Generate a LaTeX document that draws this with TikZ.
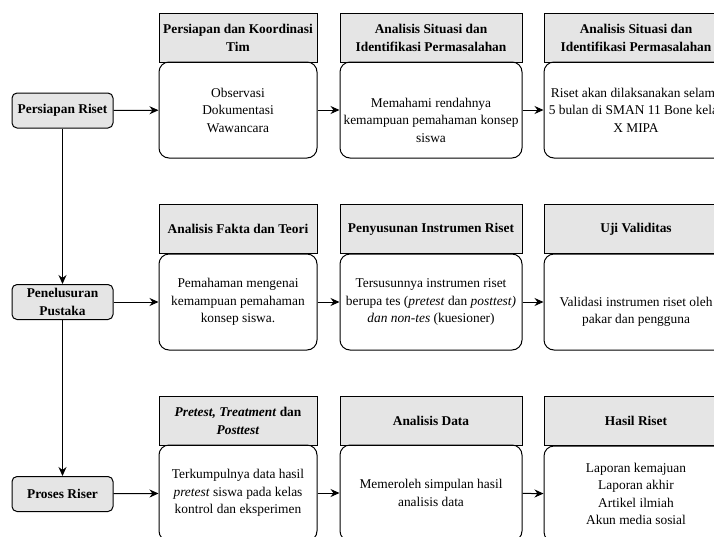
\documentclass[tikz,border=0pt]{standalone}
\usepackage{fontspec}
\setmainfont{Liberation Serif}
\usetikzlibrary{positioning,arrows.meta}

\begin{document}
\begin{tikzpicture}[x=1pt, y=-1pt, >={Stealth[length=9pt,width=8pt]}, line width=1pt,
  font=\fontsize{13.4}{17.5}\selectfont,
  stage/.style={draw, fill=black!10, rounded corners=5pt, inner sep=2pt, align=center, minimum width=101pt, minimum height=35pt, font=\fontsize{13.4}{18}\selectfont\bfseries},
  head/.style={draw, fill=black!10, inner sep=2pt, align=center, minimum height=49pt, font=\fontsize{13.4}{18}\selectfont\bfseries},
  body/.style={draw, rounded corners=10pt, inner sep=2pt, align=center, minimum height=96pt},
  txt/.style={inner sep=0pt, align=center}]
\useasboundingbox (0,0) rectangle (714,536);
\clip (0,0) rectangle (714,536);
% stages on the left
\node[stage] (riset) at (62.5,110.5) {Persiapan Riset};
\node[stage] (pustaka) at (62.5,302) {Penelusuran\\Pustaka};
\node[stage] (proses) at (62.5,494) {Proses Riser};
% first row
\node[head, minimum width=158pt] (koord) at (238,37.5) {Persiapan dan Koordinasi\\Tim};
\node[body, minimum width=158pt] (obs) at (238,110) {Observasi\\Dokumentasi\\Wawancara};
\node[head, minimum width=182pt] (situasi) at (431,37.5) {Analisis Situasi dan\\Identifikasi Permasalahan};
\node[body, minimum width=182pt] (paham) at (431,110) {};
\node[txt] (pahamtxt) at (431,120) {Memahami rendahnya\\kemampuan pemahaman konsep\\siswa};
\node[head, minimum width=184pt] (situasib) at (636,37.5) {Analisis Situasi dan\\Identifikasi Permasalahan};
\node[body, minimum width=184pt] (waktu) at (636,110) {Riset akan dilaksanakan selama\\5 bulan di SMAN 11 Bone kelas\\X MIPA};
% second row
\node[head, minimum width=158pt] (fakta) at (238,229) {Analisis Fakta dan Teori};
\node[body, minimum width=158pt] (konsep) at (238,302) {Pemahaman mengenai\\kemampuan pemahaman\\konsep siswa.};
\node[head, minimum width=182pt] (susun) at (431,229) {Penyusunan Instrumen Riset};
\node[body, minimum width=182pt] (instr) at (431,302) {Tersusunnya instrumen riset\\berupa tes (\textit{pretest} dan \textit{posttest)}\\\textit{dan non-tes} (kuesioner)};
\node[head, minimum width=184pt] (uji) at (636,229) {Uji Validitas};
\node[body, minimum width=184pt] (valid) at (636,302) {};
\node[txt] (validtxt) at (636,312) {Validasi instrumen riset oleh\\pakar dan pengguna};
% third row
\node[head, minimum width=158pt] (treat) at (238,421) {\textit{Pretest, Treatment} dan\\\textit{Posttest}};
\node[body, minimum width=158pt] (data) at (238,493) {Terkumpulnya data hasil\\\textit{pretest} siswa pada kelas\\kontrol dan eksperimen};
\node[head, minimum width=182pt] (anal) at (431,421) {Analisis Data};
\node[body, minimum width=182pt] (simpul) at (431,493) {Memeroleh simpulan hasil\\analisis data};
\node[head, minimum width=184pt] (hasil) at (636,421) {Hasil Riset};
\node[body, minimum width=184pt] (luaran) at (636,494) {Laporan kemajuan\\Laporan akhir\\Artikel ilmiah\\Akun media sosial};
% connectors
\draw[->] (riset) -- (pustaka); \draw[->] (pustaka) -- (proses);
\draw[->] (riset) -- (obs); \draw[->] (obs) -- (paham); \draw[->] (paham) -- (waktu);
\draw[->] (pustaka) -- (konsep); \draw[->] (konsep) -- (instr); \draw[->] (instr) -- (valid);
\draw[->] (proses) -- (data); \draw[->] (data) -- (simpul); \draw[->] (simpul) -- (luaran);
\end{tikzpicture}
\end{document}
